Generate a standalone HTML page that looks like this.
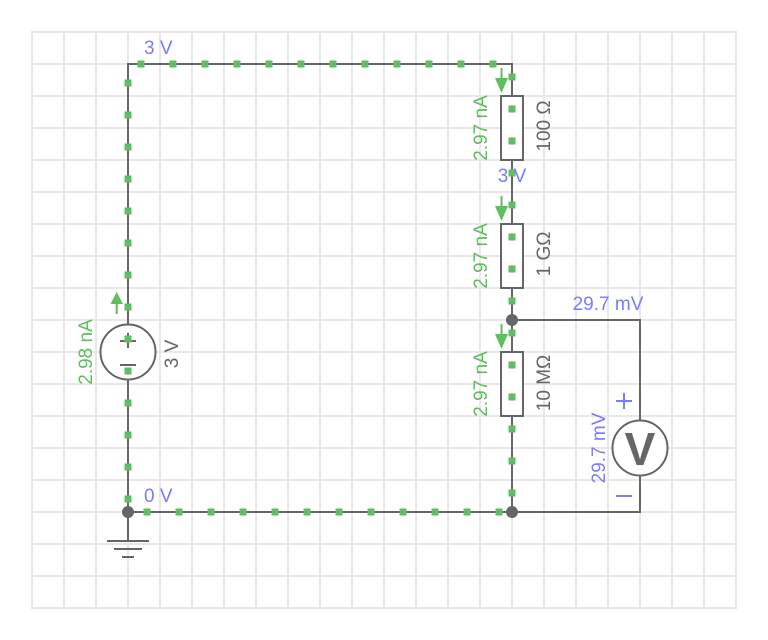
<!DOCTYPE html>
<html><head><meta charset="utf-8"><style>
html,body{margin:0;padding:0;background:#fff;}
svg{display:block;}
text{font-family:"Liberation Sans",Arial,sans-serif;font-size:19px;}
</style></head><body>
<svg width="768" height="640" viewBox="0 0 768 640" xmlns="http://www.w3.org/2000/svg">
<g stroke="#e8e8e8" stroke-width="2">
<line x1="32" y1="31" x2="32" y2="609"/><line x1="64" y1="31" x2="64" y2="609"/><line x1="96" y1="31" x2="96" y2="609"/><line x1="128" y1="31" x2="128" y2="609"/><line x1="160" y1="31" x2="160" y2="609"/><line x1="192" y1="31" x2="192" y2="609"/><line x1="224" y1="31" x2="224" y2="609"/><line x1="256" y1="31" x2="256" y2="609"/><line x1="288" y1="31" x2="288" y2="609"/><line x1="320" y1="31" x2="320" y2="609"/><line x1="352" y1="31" x2="352" y2="609"/><line x1="384" y1="31" x2="384" y2="609"/><line x1="416" y1="31" x2="416" y2="609"/><line x1="448" y1="31" x2="448" y2="609"/><line x1="480" y1="31" x2="480" y2="609"/><line x1="512" y1="31" x2="512" y2="609"/><line x1="544" y1="31" x2="544" y2="609"/><line x1="576" y1="31" x2="576" y2="609"/><line x1="608" y1="31" x2="608" y2="609"/><line x1="640" y1="31" x2="640" y2="609"/><line x1="672" y1="31" x2="672" y2="609"/><line x1="704" y1="31" x2="704" y2="609"/><line x1="736" y1="31" x2="736" y2="609"/>
<line x1="31" y1="32" x2="737" y2="32"/><line x1="31" y1="64" x2="737" y2="64"/><line x1="31" y1="96" x2="737" y2="96"/><line x1="31" y1="128" x2="737" y2="128"/><line x1="31" y1="160" x2="737" y2="160"/><line x1="31" y1="192" x2="737" y2="192"/><line x1="31" y1="224" x2="737" y2="224"/><line x1="31" y1="256" x2="737" y2="256"/><line x1="31" y1="288" x2="737" y2="288"/><line x1="31" y1="320" x2="737" y2="320"/><line x1="31" y1="352" x2="737" y2="352"/><line x1="31" y1="384" x2="737" y2="384"/><line x1="31" y1="416" x2="737" y2="416"/><line x1="31" y1="448" x2="737" y2="448"/><line x1="31" y1="480" x2="737" y2="480"/><line x1="31" y1="512" x2="737" y2="512"/><line x1="31" y1="544" x2="737" y2="544"/><line x1="31" y1="576" x2="737" y2="576"/><line x1="31" y1="608" x2="737" y2="608"/>
</g>
<g stroke="#666" stroke-width="2" fill="none">
<polyline points="128,324.5 128,64 512,64 512,512 128,512 128,379.5"/>
<polyline points="512,320 640,320 640,420.5"/>
<polyline points="640,475.5 640,512 512,512"/>
<line x1="128" y1="512" x2="128" y2="541"/>
<line x1="107" y1="541" x2="149" y2="541"/>
<line x1="114" y1="549" x2="142" y2="549"/>
<line x1="122" y1="557" x2="134" y2="557"/>
<rect x="501" y="96" width="22" height="64" fill="#fff"/>
<rect x="501" y="224" width="22" height="64" fill="#fff"/>
<rect x="501" y="352" width="22" height="64" fill="#fff"/>
<circle cx="128" cy="352" r="27.5" fill="#fff"/>
<circle cx="640" cy="448" r="27.5" fill="#fff"/>
<line x1="120" y1="341" x2="136" y2="341"/>
<line x1="128" y1="333" x2="128" y2="348"/>
<line x1="120" y1="365" x2="136" y2="365"/>
</g>
<g fill="#666">
<circle cx="512" cy="320" r="6"/>
<circle cx="512" cy="512" r="6"/>
<circle cx="128" cy="512" r="6"/>
</g>
<text x="640" y="465" text-anchor="middle" fill="#666" style="font-size:46px;font-weight:bold">V</text>
<!-- arrows -->
<g fill="#5fbf5f" stroke="none">
<rect x="500.5" y="68" width="2" height="11"/>
<polygon points="495,78 508,78 501.5,93"/>
<rect x="500.5" y="196" width="2" height="11"/>
<polygon points="495,206 508,206 501.5,221"/>
<rect x="500.5" y="324" width="2" height="11"/>
<polygon points="495,334 508,334 501.5,349"/>
<rect x="115.7" y="303" width="2" height="11"/>
<polygon points="110.5,304 123,304 116.7,292"/>
</g>
<!-- dots -->
<g fill="#5fbf5f">
<rect x="137.5" y="60.5" width="7" height="7"/><rect x="169.5" y="60.5" width="7" height="7"/><rect x="201.5" y="60.5" width="7" height="7"/><rect x="233.5" y="60.5" width="7" height="7"/><rect x="265.5" y="60.5" width="7" height="7"/><rect x="297.5" y="60.5" width="7" height="7"/><rect x="329.5" y="60.5" width="7" height="7"/><rect x="361.5" y="60.5" width="7" height="7"/><rect x="393.5" y="60.5" width="7" height="7"/><rect x="425.5" y="60.5" width="7" height="7"/><rect x="457.5" y="60.5" width="7" height="7"/><rect x="489.5" y="60.5" width="7" height="7"/>
<rect x="508.5" y="73.5" width="7" height="7"/><rect x="508.5" y="105.5" width="7" height="7"/><rect x="508.5" y="137.5" width="7" height="7"/><rect x="508.5" y="169.5" width="7" height="7"/><rect x="508.5" y="201.5" width="7" height="7"/><rect x="508.5" y="233.5" width="7" height="7"/><rect x="508.5" y="265.5" width="7" height="7"/><rect x="508.5" y="297.5" width="7" height="7"/><rect x="508.5" y="329.5" width="7" height="7"/><rect x="508.5" y="361.5" width="7" height="7"/><rect x="508.5" y="393.5" width="7" height="7"/><rect x="508.5" y="425.5" width="7" height="7"/><rect x="508.5" y="457.5" width="7" height="7"/><rect x="508.5" y="489.5" width="7" height="7"/>
<rect x="495.5" y="508.5" width="7" height="7"/><rect x="463.5" y="508.5" width="7" height="7"/><rect x="431.5" y="508.5" width="7" height="7"/><rect x="399.5" y="508.5" width="7" height="7"/><rect x="367.5" y="508.5" width="7" height="7"/><rect x="335.5" y="508.5" width="7" height="7"/><rect x="303.5" y="508.5" width="7" height="7"/><rect x="271.5" y="508.5" width="7" height="7"/><rect x="239.5" y="508.5" width="7" height="7"/><rect x="207.5" y="508.5" width="7" height="7"/><rect x="175.5" y="508.5" width="7" height="7"/><rect x="143.5" y="508.5" width="7" height="7"/>
<rect x="124.5" y="495.5" width="7" height="7"/><rect x="124.5" y="463.5" width="7" height="7"/><rect x="124.5" y="431.5" width="7" height="7"/><rect x="124.5" y="399.5" width="7" height="7"/><rect x="124.5" y="367.5" width="7" height="7"/><rect x="124.5" y="335.5" width="7" height="7"/><rect x="124.5" y="303.5" width="7" height="7"/><rect x="124.5" y="271.5" width="7" height="7"/><rect x="124.5" y="239.5" width="7" height="7"/><rect x="124.5" y="207.5" width="7" height="7"/><rect x="124.5" y="175.5" width="7" height="7"/><rect x="124.5" y="143.5" width="7" height="7"/><rect x="124.5" y="111.5" width="7" height="7"/><rect x="124.5" y="79.5" width="7" height="7"/>
</g>
<!-- labels -->
<g fill="#7b7bff">
<text x="144" y="54">3 V</text>
<text x="144" y="502">0 V</text>
<text x="512" y="182" text-anchor="middle">3 V</text>
<text x="608" y="310" text-anchor="middle">29.7 mV</text>
<text transform="translate(605,448) rotate(-90)" text-anchor="middle">29.7 mV</text>
<rect x="616" y="400" width="16" height="2"/>
<rect x="623" y="393" width="2" height="16"/>
<rect x="616" y="495" width="16" height="2"/>
</g>
<g fill="#5cbd5c">
<text transform="translate(487,128) rotate(-90)" text-anchor="middle">2.97 nA</text>
<text transform="translate(487,256) rotate(-90)" text-anchor="middle">2.97 nA</text>
<text transform="translate(487,384) rotate(-90)" text-anchor="middle">2.97 nA</text>
<text transform="translate(92,352) rotate(-90)" text-anchor="middle">2.98 nA</text>
</g>
<g fill="#666">
<text transform="translate(550,126) rotate(-90)" text-anchor="middle">100 Ω</text>
<text transform="translate(550,254) rotate(-90)" text-anchor="middle">1 GΩ</text>
<text transform="translate(550,383) rotate(-90)" text-anchor="middle">10 MΩ</text>
<text transform="translate(178,354) rotate(-90)" text-anchor="middle">3 V</text>
</g>
</svg>
</body></html>
